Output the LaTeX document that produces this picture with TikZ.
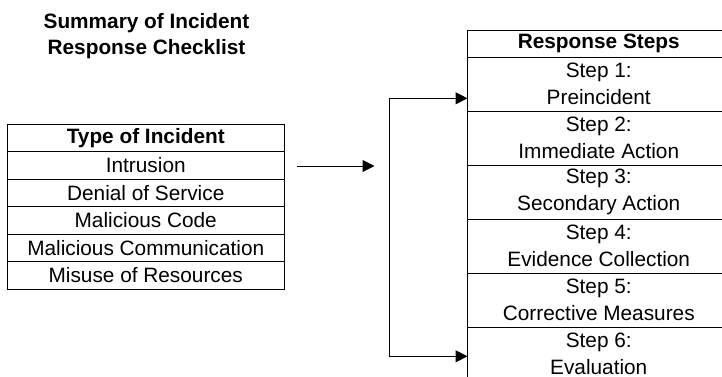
\documentclass[tikz,border=0pt]{standalone}
\usepackage{fontspec}
\setmainfont{Liberation Sans}
\usetikzlibrary{arrows.meta}
\begin{document}
\begin{tikzpicture}[x=1pt,y=-1pt,
  txt/.style={font=\fontsize{20.8}{26.5}\selectfont},
  cell/.style={draw, line width=1pt, inner sep=0pt, outer sep=0pt, align=center, txt},
  lrow/.style={cell, minimum width=276.5pt, minimum height=27.5pt},
  rhead/.style={cell, minimum width=262.5pt, minimum height=27pt},
  rstep/.style={cell, minimum width=262.5pt, minimum height=54pt},
  tip/.tip={Triangle[length=12pt,width=12pt]},
  link/.style={line width=1pt, -tip},
  bothlink/.style={line width=1pt, tip-tip}]
\clip (0,0) rectangle (722,376);
\useasboundingbox (0,0) rectangle (722,376);

% heading (anchored at the baseline of its last line)
\node[align=center, anchor=base, font=\fontsize{20.8}{25.8}\selectfont\bfseries]
  (title) at (146.5,54.2) {Summary of Incident\\Response Checklist};

% incident types
\node[lrow, font=\fontsize{20.8}{26.5}\selectfont\bfseries] (th) at (145.75,137.75) {Type of Incident};
\node[lrow] (t1) at (145.75,165.25) {Intrusion};
\node[lrow] (t2) at (145.75,192.75) {Denial of Service};
\node[lrow] (t3) at (145.75,220.25) {Malicious Code};
\node[lrow] (t4) at (145.75,247.75) {Malicious Communication};
\node[lrow] (t5) at (145.75,275.25) {Misuse of Resources};

% response steps
\node[rhead, font=\fontsize{20.8}{26.5}\selectfont\bfseries] (sh) at (598.75,43.5) {Response Steps};
\node[rstep] (s1) at (598.75,84)  {Step 1:\\Preincident};
\node[rstep] (s2) at (598.75,138) {Step 2:\\Immediate Action};
\node[rstep] (s3) at (598.75,192) {Step 3:\\Secondary Action};
\node[rstep] (s4) at (598.75,246) {Step 4:\\Evidence Collection};
\node[rstep] (s5) at (598.75,300) {Step 5:\\Corrective Measures};
\node[rstep] (s6) at (598.75,354) {Step 6:\\Evaluation};

% connectors
\coordinate (from) at (297,166);
\coordinate (to) at (374.5,166);
\draw[link] (from) -- (to);
\coordinate (brtop) at (389,98.3);
\coordinate (brbot) at (389,356.3);
\draw[bothlink] (s1.west |- brtop) -- (brtop) -- (brbot) -- (s6.west |- brbot);
\end{tikzpicture}
\end{document}
